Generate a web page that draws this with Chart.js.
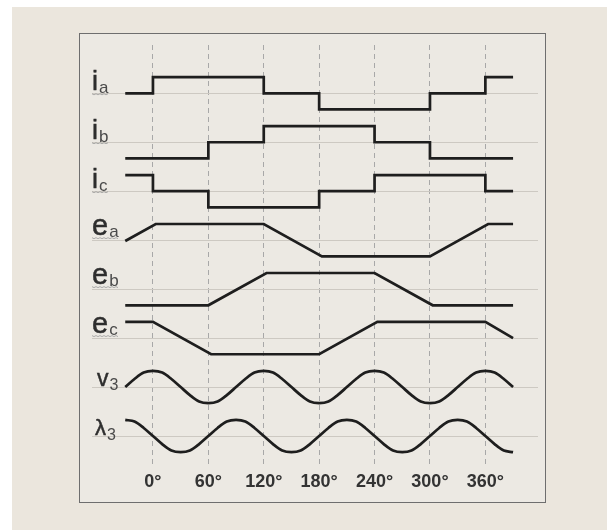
<!DOCTYPE html>
<html><head><meta charset="utf-8">
<script src="https://cdn.jsdelivr.net/npm/chart.js@4"></script>
<style>
html,body{margin:0;padding:0;background:#fff;}
#bg{position:absolute;left:12px;top:7px;width:595px;height:523px;background:#ebe6dd;}
#box{position:absolute;left:79px;top:33px;width:465px;height:468px;border:1.5px solid #6e6e6e;background:#ece9e3;}
#wrap{position:absolute;left:0;top:0;width:612px;height:530px;}
</style></head><body>
<div id="bg"></div><div id="box"></div>
<div id="wrap"><canvas id="c" width="612" height="530"></canvas></div>
<script>
// ---- data ----
const degreeTicks = [0, 60, 120, 180, 240, 300, 360];
const tickLabels = ['0°', '60°', '120°', '180°', '240°', '300°', '360°'];
const traceNames = [['i','a'],['i','b'],['i','c'],['e','a'],['e','b'],['e','c'],['v','3'],['λ','3']];

const iaX = [-30, 0, 0, 120, 120, 180, 180, 300, 300, 360, 360, 390];
const iaY = [0, 0, 1, 1, 0, 0, -1, -1, 0, 0, 1, 1];
const ibX = [-30, 60, 60, 120, 120, 240, 240, 300, 300, 390];
const ibY = [-1, -1, 0, 0, 1, 1, 0, 0, -1, -1];
const icX = [-30, 0, 0, 60, 60, 180, 180, 240, 240, 360, 360, 390];
const icY = [1, 1, 0, 0, -1, -1, 0, 0, 1, 1, 0, 0];
const eaX = [-30, 3, 120, 183, 300, 363, 390];
const eaY = [-0.05, 1, 1, -1, -1, 1, 1];
const ebX = [-30, 60, 123, 240, 303, 390];
const ebY = [-1, -1, 1, 1, -1, -1];
const ecX = [-30, 0, 63, 180, 243, 360, 390];
const ecY = [1, 1, -1, -1, 1, 1, 0];
const waveX = [-30,-20,-10,0,10,20,30,40,50,60,70,80,90,100,110,120,130,140,150,160,170,180,190,200,210,220,230,240,250,260,270,280,290,300,310,320,330,340,350,360,370,380,390];
const v3Y = [0,0.5,0.9,1,0.9,0.5,0,-0.5,-0.9,-1,-0.9,-0.5,0,0.5,0.9,1,0.9,0.5,0,-0.5,-0.9,-1,-0.9,-0.5,0,0.5,0.9,1,0.9,0.5,0,-0.5,-0.9,-1,-0.9,-0.5,0,0.5,0.9,1,0.9,0.5,0];
const l3Y = [1,0.9,0.5,0,-0.5,-0.9,-1,-0.9,-0.5,0,0.5,0.9,1,0.9,0.5,0,-0.5,-0.9,-1,-0.9,-0.5,0,0.5,0.9,1,0.9,0.5,0,-0.5,-0.9,-1,-0.9,-0.5,0,0.5,0.9,1,0.9,0.5,0,-0.5,-0.9,-1];

const traces = [[iaX,iaY],[ibX,ibY],[icX,icY],[eaX,eaY],[ebX,ebY],[ecX,ecY],[waveX,v3Y],[waveX,l3Y]];
const AMP = 0.33;

const datasets = traces.map(([xs, ys], k) => ({
  data: xs.map((x, i) => ({x: x, y: -k + ys[i] * AMP})),
  borderColor: '#1e1e1e',
  borderWidth: 2.7,
  pointRadius: 0,
  fill: false,
  tension: k >= 6 ? 0.3 : 0,
  borderJoinStyle: k >= 6 ? 'round' : 'miter',
  borderCapStyle: 'butt'
}));

const labelPlugin = {
  id: 'traceLabels',
  afterDatasetsDraw(chart) {
    const ctx = chart.ctx, ys = chart.scales.y;
    const fam = '"Liberation Sans", Arial, sans-serif';
    traceNames.forEach((n, k) => {
      const base = ys.getPixelForValue(-k);
      let cfg;
      if (n[0] === 'i') cfg = {x: 92, mf: 27, mo: -3, sf: 17, so: 0, sq: true};
      else if (n[0] === 'e') cfg = {x: 92, mf: 29, mo: -5, sf: 17, so: -3, sq: true};
      else if (n[0] === 'v') cfg = {x: 97, mf: 23, mo: -1, sf: 16, so: 3, sq: false};
      else cfg = {x: 95, mf: 22, mo: -1, sf: 16, so: 4, sq: false};
      ctx.save();
      ctx.textBaseline = 'alphabetic';
      ctx.textAlign = 'left';
      ctx.fillStyle = '#2e2e2e';
      ctx.strokeStyle = '#2e2e2e';
      ctx.lineWidth = 0.5;
      ctx.font = cfg.mf + 'px ' + fam;
      ctx.fillText(n[0], cfg.x, base + cfg.mo);
      ctx.strokeText(n[0], cfg.x, base + cfg.mo);
      const w = ctx.measureText(n[0]).width;
      ctx.fillStyle = '#4a4a4a';
      ctx.font = cfg.sf + 'px ' + fam;
      ctx.fillText(n[1], cfg.x + w + 1, base + cfg.so);
      const w2 = ctx.measureText(n[1]).width;
      if (cfg.sq) {
        ctx.strokeStyle = '#9a9a9a';
        ctx.lineWidth = 0.8;
        ctx.beginPath();
        const y0 = base + cfg.so + 0.5;
        for (let xx = cfg.x; xx <= cfg.x + w + w2 + 2; xx += 2) {
          const yy = y0 + (((xx - cfg.x) / 2) % 2 ? 1 : 0);
          if (xx === cfg.x) ctx.moveTo(xx, yy); else ctx.lineTo(xx, yy);
        }
        ctx.stroke();
      }
      ctx.restore();
    });
  }
};

new Chart(document.getElementById('c'), {
  type: 'line',
  data: {datasets},
  options: {
    responsive: false,
    animation: false,
    devicePixelRatio: 1,
    layout: {padding: {left: 92, right: 74, top: 45, bottom: 25}},
    plugins: {legend: {display: false}, tooltip: {enabled: false}},
    scales: {
      x: {
        type: 'linear', min: -66, max: 417,
        afterBuildTicks: s => { s.ticks = degreeTicks.map(v => ({value: v})); },
        afterFit: s => { s.height = 40; },
        grid: {color: '#a8a8a8', lineWidth: 1, drawTicks: false},
        border: {display: false, dash: [5, 4]},
        ticks: {
          padding: 6,
          color: '#333',
          font: {family: '"Liberation Sans", Arial, sans-serif', size: 18, weight: 'bold'},
          callback: (v) => tickLabels[degreeTicks.indexOf(v)]
        }
      },
      y: {
        type: 'linear', min: -7.592, max: 0.9865,
        afterBuildTicks: s => { s.ticks = traceNames.map((n, k) => ({value: -k})); },
        afterFit: s => { s.width = 0; },
        grid: {color: '#cdc9c2', lineWidth: 1, drawTicks: false},
        border: {display: false},
        ticks: {display: false}
      }
    }
  },
  plugins: [labelPlugin]
});
</script>
</body></html>
